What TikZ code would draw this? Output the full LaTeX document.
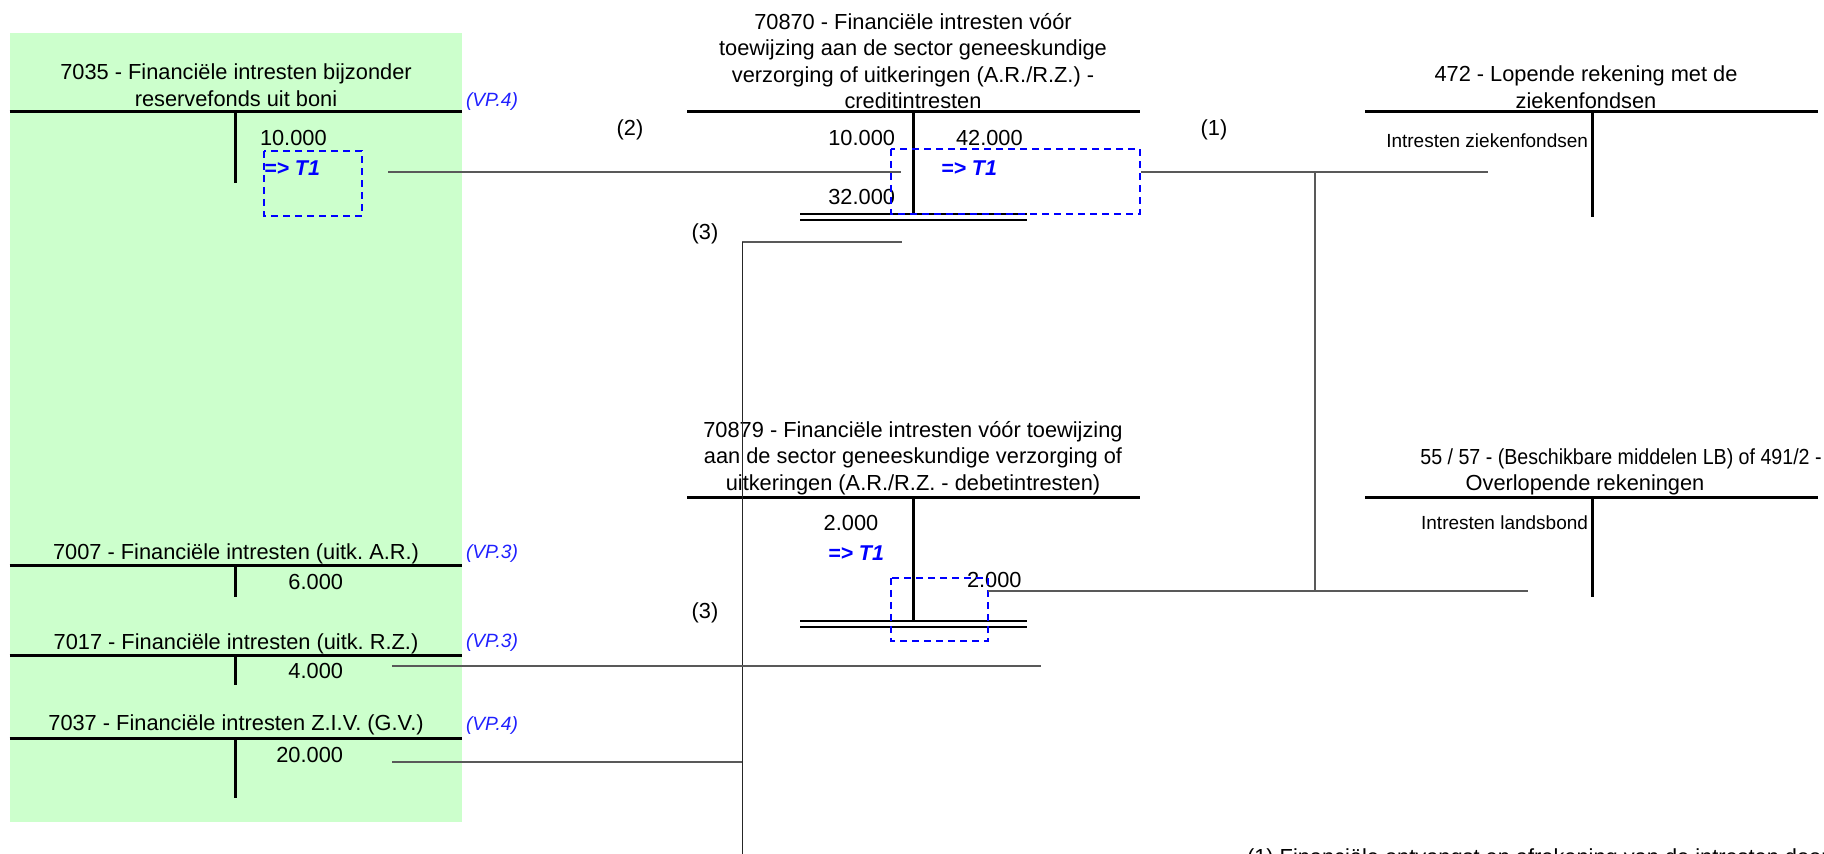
\documentclass[tikz,border=0pt]{standalone}
\usepackage{fontspec}
\usepackage{graphicx}
\setmainfont{Liberation Sans}
\definecolor{greenfill}{HTML}{CCFFCC}
\definecolor{vpblue}{HTML}{2020FF}
\frenchspacing
\begin{document}
\begin{tikzpicture}[x=0.5pt,y=-0.5pt,
  every node/.style={inner sep=0pt, outer sep=0pt},
  main/.style={font=\fontsize{10.9}{13.25}\selectfont},
  small/.style={font=\fontsize{9.5}{11.5}\selectfont},
  vp/.style={font=\fontsize{9.6}{11.5}\selectfont\itshape, text=vpblue},
  tone/.style={font=\fontsize{10.7}{13}\selectfont\bfseries\itshape, text=blue},
  tbar/.style={line width=1.5pt, black},
  dline/.style={line width=1.2pt, black},
  conn/.style={line width=0.75pt, black!65},
  vconn/.style={line width=0.5pt, black!85},
  dbox/.style={draw=blue, dash pattern=on 3.5pt off 2.5pt, line width=1pt}
]
\useasboundingbox (0,0) rectangle (1824,854);
\clip (0,0) rectangle (1824,854);
\fill[greenfill] (9.6,33) rectangle (462,822);

% ---------- 7035
\node[main, align=center, anchor=north] (t7035) at (236,64) {7035 - Financiële intresten bijzonder\\reservefonds uit boni};
\coordinate (h7035a) at (9.6,112); \coordinate (h7035b) at (462,112);
\coordinate (v7035a) at (235,112); \coordinate (v7035b) at (235,183);
\draw[tbar] (h7035a) -- (h7035b); \draw[tbar] (v7035a) -- (v7035b);
\node[main, anchor=base west] (n7035) at (260,146) {10.000};
\coordinate (b7035a) at (264,151); \coordinate (b7035b) at (362,216);
\draw[dbox] (b7035a) rectangle (b7035b);
\node[tone, anchor=base west] (tone7035) at (264,176) {=> T1};
\node[vp, anchor=base west] (vp7035) at (466,107) {(VP.4)};

% ---------- 7007
\node[main, anchor=base] (t7007) at (236,560) {7007 - Financiële intresten (uitk. A.R.)};
\coordinate (h7007a) at (9.6,566); \coordinate (h7007b) at (462,566);
\coordinate (v7007a) at (235,566); \coordinate (v7007b) at (235,597);
\draw[tbar] (h7007a) -- (h7007b); \draw[tbar] (v7007a) -- (v7007b);
\node[main, anchor=base east] (n7007) at (343,589) {6.000};
\node[vp, anchor=base west] (vp7007) at (466,559) {(VP.3)};

% ---------- 7017
\node[main, anchor=base] (t7017) at (236,649) {7017 - Financiële intresten (uitk. R.Z.)};
\coordinate (h7017a) at (9.6,655); \coordinate (h7017b) at (462,655);
\coordinate (v7017a) at (235,655); \coordinate (v7017b) at (235,685);
\draw[tbar] (h7017a) -- (h7017b); \draw[tbar] (v7017a) -- (v7017b);
\node[main, anchor=base east] (n7017) at (343,678) {4.000};
\node[vp, anchor=base west] (vp7017) at (466,647) {(VP.3)};

% ---------- 7037
\node[main, anchor=base] (t7037) at (236,730) {7037 - Financiële intresten Z.I.V. (G.V.)};
\coordinate (h7037a) at (9.6,738); \coordinate (h7037b) at (462,738);
\coordinate (v7037a) at (235,738); \coordinate (v7037b) at (235,798);
\draw[tbar] (h7037a) -- (h7037b); \draw[tbar] (v7037a) -- (v7037b);
\node[main, anchor=base east] (n7037) at (343,762) {20.000};
\node[vp, anchor=base west] (vp7037) at (466,730) {(VP.4)};

% ---------- 70870
\node[main, align=center, anchor=north] (t70870) at (913,13) {70870 - Financiële intresten vóór\\toewijzing aan de sector geneeskundige\\verzorging of uitkeringen (A.R./R.Z.) -\\creditintresten};
\coordinate (h70870a) at (687,112); \coordinate (h70870b) at (1140,112);
\coordinate (v70870a) at (913,112); \coordinate (v70870b) at (913,214);
\draw[tbar] (h70870a) -- (h70870b); \draw[tbar] (v70870a) -- (v70870b);
\coordinate (d70870a) at (800,214); \coordinate (d70870b) at (1027,214);
\coordinate (d70870c) at (800,220); \coordinate (d70870d) at (1027,220);
\draw[dline] (d70870a) -- (d70870b); \draw[dline] (d70870c) -- (d70870d);
\node[main, anchor=base east] (n70870a) at (895,146) {10.000};
\node[main, anchor=base west] (n70870b) at (956,146) {42.000};
\node[main, anchor=base east] (n70870c) at (895,205) {32.000};
\coordinate (b70870a) at (891,149); \coordinate (b70870b) at (1140,214);
\draw[dbox] (b70870a) rectangle (b70870b);
\node[tone, anchor=base west] (tone70870) at (941,176) {=> T1};
\node[main, anchor=base] (lab2) at (630,136) {(2)};
\node[main, anchor=base] (lab1) at (1214,136) {(1)};
\node[main, anchor=base] (lab3a) at (705,240) {(3)};

% ---------- 472
\node[main, align=center, anchor=north] (t472) at (1586,66) {472 - Lopende rekening met de\\ziekenfondsen};
\coordinate (h472a) at (1365,112); \coordinate (h472b) at (1818,112);
\coordinate (v472a) at (1592,112); \coordinate (v472b) at (1592,217);
\draw[tbar] (h472a) -- (h472b); \draw[tbar] (v472a) -- (v472b);
\node[small, anchor=base east] (n472) at (1588,148) {Intresten ziekenfondsen};

% ---------- 70879
\node[main, align=center, anchor=north] (t70879) at (913,421) {70879 - Financiële intresten vóór toewijzing\\aan de sector geneeskundige verzorging of\\uitkeringen (A.R./R.Z. - debetintresten)};
\coordinate (h70879a) at (687,498); \coordinate (h70879b) at (1140,498);
\coordinate (v70879a) at (913,498); \coordinate (v70879b) at (913,621);
\draw[tbar] (h70879a) -- (h70879b); \draw[tbar] (v70879a) -- (v70879b);
\coordinate (d70879a) at (800,621); \coordinate (d70879b) at (1027,621);
\coordinate (d70879c) at (800,627); \coordinate (d70879d) at (1027,627);
\draw[dline] (d70879a) -- (d70879b); \draw[dline] (d70879c) -- (d70879d);
\node[main, anchor=base] (n70879a) at (851,531) {2.000};
\node[tone, anchor=base west] (tone70879) at (828,561) {=> T1};
\node[main, anchor=base west] (n70879b) at (967,588) {2.000};
\coordinate (b70879a) at (891,578); \coordinate (b70879b) at (988,641);
\draw[dbox] (b70879a) rectangle (b70879b);
\node[main, anchor=base] (lab3b) at (705,618) {(3)};

% ---------- 55/57
\node[main, anchor=base] (t5557a) at (1621,465) {\scalebox{0.9}[1]{55 / 57 - (Beschikbare middelen LB) of 491/2 -}};
\node[main, anchor=base] (t5557b) at (1585,491) {Overlopende rekeningen};
\coordinate (h5557a) at (1365,498); \coordinate (h5557b) at (1818,498);
\coordinate (v5557a) at (1592,498); \coordinate (v5557b) at (1592,597);
\draw[tbar] (h5557a) -- (h5557b); \draw[tbar] (v5557a) -- (v5557b);
\node[small, anchor=base east] (n5557) at (1588,530) {Intresten landsbond};

% ---------- connectors
\coordinate (c2a) at (388,172); \coordinate (c2b) at (901,172);
\draw[conn] (c2a) -- (c2b);
\coordinate (c1a) at (1141,172); \coordinate (c1b) at (1488,172);
\coordinate (c1j) at (1315,172); \coordinate (c1k) at (1315,592);
\coordinate (c1c) at (988,591); \coordinate (c1d) at (1528,591);
\draw[conn] (c1a) -- (c1b);
\draw[conn] (c1j) -- (c1k);
\draw[conn] (c1c) -- (c1d);
\coordinate (c3a) at (742,242); \coordinate (c3b) at (902,242);
\coordinate (c3c) at (742,870);
\draw[conn] (c3a) -- (c3b);
\draw[vconn] (c3a) -- (c3c);
\coordinate (c3d) at (392,666); \coordinate (c3e) at (1041,666);
\draw[conn] (c3d) -- (c3e);
\coordinate (c3f) at (392,762); \coordinate (c3g) at (742,762);
\draw[conn] (c3f) -- (c3g);

% ---------- footnote (cut by the lower edge, as in the reference)
\node[main, anchor=base west] (note1) at (1247,864) {(1) Financiële ontvangst en afrekening van de intresten door};
\end{tikzpicture}
\end{document}
